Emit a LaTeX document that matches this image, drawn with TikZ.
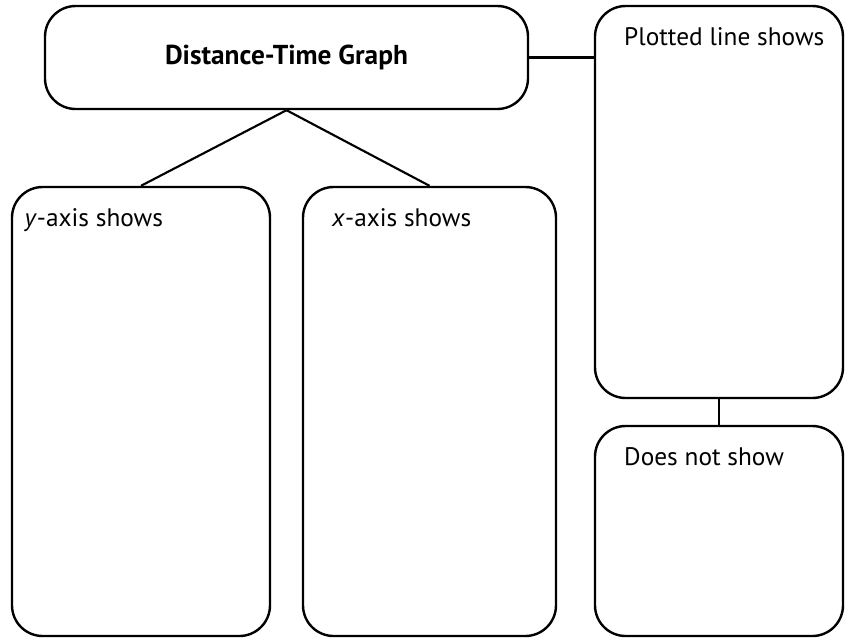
\documentclass[tikz,border=0pt]{standalone}
\usepackage{fontspec}
\setmainfont{PT Sans}
\usetikzlibrary{positioning}
\tikzset{box/.style={draw,line width=1.8pt,rounded corners=23pt,minimum width=#1},
         boxtext/.style={inner sep=0pt,anchor=north west,font=\fontsize{19}{22}\selectfont}}

\begin{document}
\begin{tikzpicture}[x=0.75pt,y=-0.75pt,line width=1.6pt]
        \useasboundingbox (0,0) rectangle (846,640);
        \node[box=362.25pt,minimum height=77.25pt] (graph) at (286.5,57.5) {};
        \node[font=\fontsize{20.5}{24}\selectfont\bfseries] (graphtext) at (graph) {Distance-Time Graph};
        \node[box=193.5pt,minimum height=336.75pt] (yaxis) at (141,411.5) {};
        \node[box=189.75pt,minimum height=336.75pt] (xaxis) at (429.5,411.5) {};
        \node[box=186pt,minimum height=294pt] (plotted) at (719,202) {};
        \node[box=186pt,minimum height=157.5pt] (notshow) at (719,531) {};
        \node[boxtext,below right=16.5pt and 9.5pt of yaxis.north west] (yaxistext) {\textit{y}-axis shows};
        \node[boxtext,below right=16.5pt and 22pt of xaxis.north west] (xaxistext) {\textit{x}-axis shows};
        \node[boxtext,below right=16.5pt and 22pt of plotted.north west] (plottedtext) {Plotted line shows};
        \node[boxtext,below right=16.5pt and 22pt of notshow.north west] (notshowtext) {Does not show};
        % connectors
        \draw (graph.south) -- (yaxis.north);
        \draw (graph.south) -- (xaxis.north);
        \draw (graph.east) -- (graph.east -| plotted.west);
        \draw (plotted.south) -- (notshow.north);
\end{tikzpicture}
\end{document}
